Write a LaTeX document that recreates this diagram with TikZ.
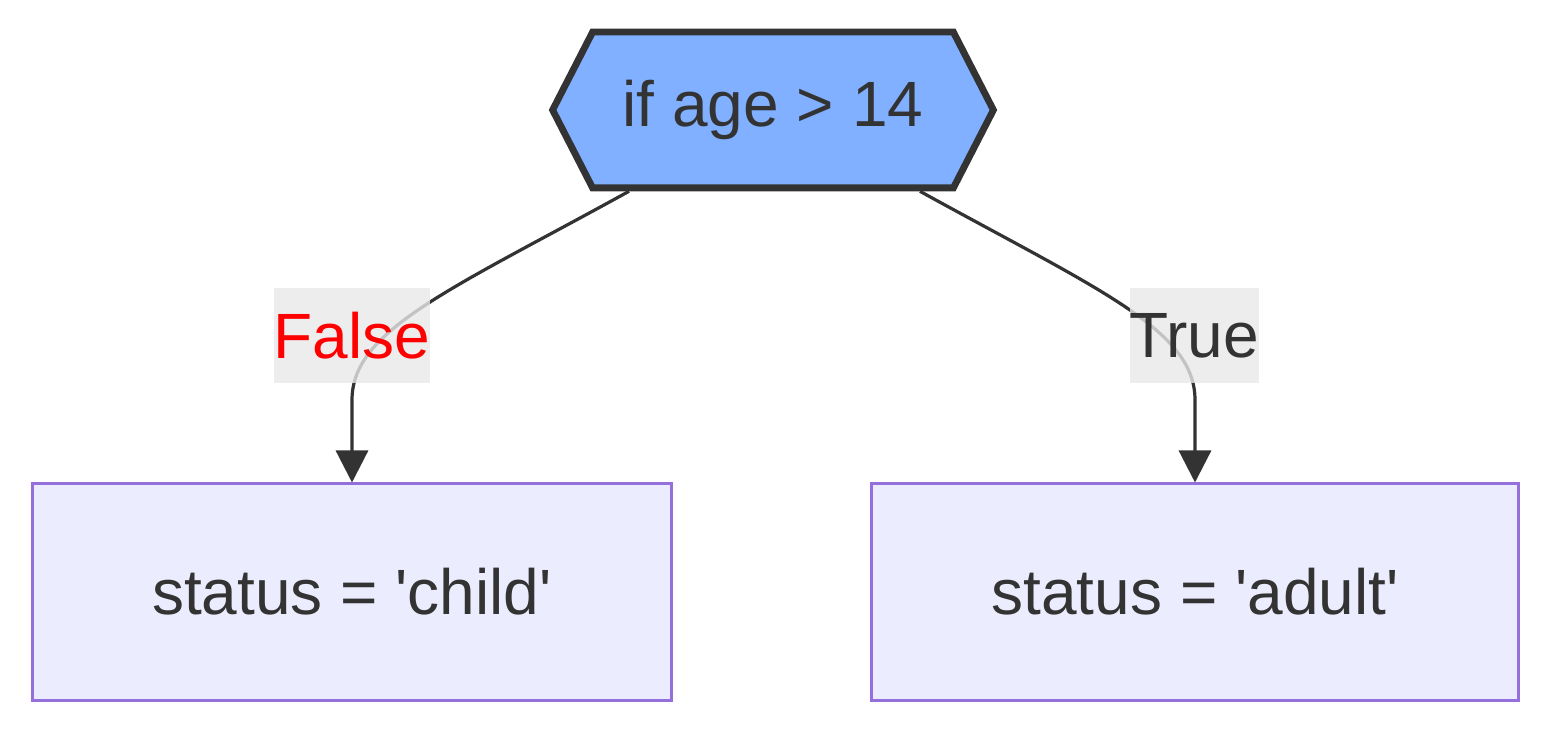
\documentclass[tikz,border=0pt]{standalone}
\usepackage{fontspec}
\setmainfont{Liberation Sans}
\usetikzlibrary{arrows.meta}
\definecolor{ink}{HTML}{333333}
\definecolor{condfill}{HTML}{80B0FF}
\definecolor{boxline}{HTML}{9370DB}
\definecolor{boxfill}{HTML}{ECECFF}
\definecolor{lblfill}{HTML}{E8E8E8}
\begin{document}
\begin{tikzpicture}[x=0.5pt,y=-0.5pt,font=\fontsize{32}{38}\selectfont,
  box/.style={draw=boxline,fill=boxfill,line width=1.5pt,text=ink,minimum height=108pt},
  lbl/.style={fill=lblfill,fill opacity=0.8,text opacity=1,inner xsep=0pt,minimum height=47.5pt},
  flow/.style={-{Triangle[length=16pt,width=16pt]},line width=1.6pt,draw=ink}]
\useasboundingbox (0,0) rectangle (1548,732);

\node[text=ink,minimum width=180pt,minimum height=77.5pt,inner sep=0pt] (cond) at(773,110) {if age > 14};
\draw[draw=ink,fill=condfill,line width=3.4pt,line join=miter]
  (cond.north west) -- (cond.north east) -- ([xshift=20pt]cond.east) -- (cond.south east)
  -- (cond.south west) -- ([xshift=-20pt]cond.west) -- cycle;
\node[text=ink,inner sep=0pt] at(cond.center) {if age > 14};

\node[box,minimum width=319.5pt] (child) at(352,592) {status = \textquotesingle child\textquotesingle};
\node[box,minimum width=323.5pt] (adult) at(1195,592) {status = \textquotesingle adult\textquotesingle};

\draw[flow] ([xshift=-72pt,yshift=-1.7pt]cond.south) .. controls (450,290) and (352,330) .. (352,400) -- (child.north);
\draw[flow] ([xshift=73.5pt,yshift=-1.7pt]cond.south) .. controls (1099,290) and (1195,330) .. (1195,400) -- (adult.north);

\node[lbl,text=red] (no) at(352,335.5) {False};
\node[lbl,text=ink] (yes) at(1194.5,335.5) {True};
\end{tikzpicture}
\end{document}
